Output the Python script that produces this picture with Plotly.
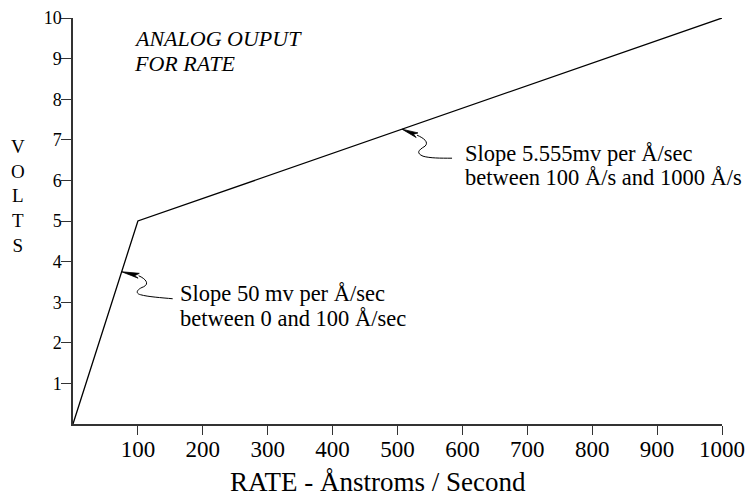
import numpy as np
import plotly.graph_objects as go

# Data
rate = [0, 100, 1000]            # Angstroms / second
volts = [0, 5, 10]               # analog output volts
x_ticks = [100, 200, 300, 400, 500, 600, 700, 800, 900, 1000]
y_ticks = [1, 2, 3, 4, 5, 6, 7, 8, 9, 10]
note_rates = [75, 507]           # where the callout arrows point
note_lines = [["Slope 50 mv per Å/sec", "between 0 and 100 Å/sec"],
              ["Slope 5.555mv per Å/sec", "between 100 Å/s and 1000 Å/s"]]
title_lines = ["ANALOG OUPUT", "FOR RATE"]

FONT = "Liberation Serif, Times New Roman, serif"
W, H = 747, 502
L, R, T, B = 73, 25, 18, 78
PW, PH = W - L - R, H - T - B


def px(x):
    return (x - L) / PW


def py(y):
    return (H - B - y) / PH


fig = go.Figure()
fig.add_trace(go.Scatter(x=rate, y=volts, mode="lines",
                         line=dict(color="black", width=1.3),
                         hoverinfo="skip", showlegend=False))

note_volts = list(np.interp(note_rates, rate, volts))

# squiggle connectors and arrowheads (pixel offsets from arrow tip, y up)
squiggles = [
    "M17,-4 C24,-7 28,-12 22,-15 C14,-18 14,-22 19,-23 C26,-25 40,-26 51,-27",
    "M15,-6 C22,-9 27,-13 23,-17 C16,-21 14,-24 21,-27 C28,-29 38,-29 50,-29",
]
heads = [
    "M0,0 L17.6,-1.6 L13,-3.9 L16.4,-6.4 Z",
    "M0,0 L15.9,-3.7 L11.5,-5 L14.1,-8.3 Z",
]
for xr, yv, path, head in zip(note_rates, note_volts, squiggles, heads):
    fig.add_shape(type="path", xref="x", yref="y", xsizemode="pixel", ysizemode="pixel",
                  xanchor=xr, yanchor=yv, path=path,
                  line=dict(color="black", width=1))
    fig.add_shape(type="path", xref="x", yref="y", xsizemode="pixel", ysizemode="pixel",
                  xanchor=xr, yanchor=yv, path=head, fillcolor="black",
                  line=dict(color="black", width=0.8))

# note text placement (left edge px, first-line centre px)
note_pos = [(178, 293), (463, 153)]
for (tx, ty), lines in zip(note_pos, note_lines):
    for i, line in enumerate(lines):
        fig.add_annotation(x=px(tx), y=py(ty + 25 * i), xref="paper", yref="paper",
                           text=line, showarrow=False,
                           xanchor="left", yanchor="middle", align="left",
                           font=dict(family=FONT, size=22.5, color="black"))

for i, line in enumerate(title_lines):
    fig.add_annotation(x=px(132), y=py(38 + 25 * i), xref="paper", yref="paper",
                       text="<i>" + line + "</i>", showarrow=False,
                       xanchor="left", yanchor="middle", align="left",
                       font=dict(family=FONT, size=22, color="black"))

fig.add_annotation(x=px(18), y=py(196), xref="paper", yref="paper",
                   text="<br>".join("VOLTS"), showarrow=False,
                   xanchor="center", yanchor="middle", align="center",
                   font=dict(family=FONT, size=19, color="black"))

fig.add_annotation(x=px(378), y=py(482), xref="paper", yref="paper",
                   text="RATE - Ånstroms / Second", showarrow=False,
                   xanchor="center", yanchor="middle",
                   font=dict(family=FONT, size=27, color="black"))

fig.update_xaxes(range=[0, 1000], tickvals=x_ticks, ticktext=[str(v) for v in x_ticks],
                 showline=True, linecolor="#333", linewidth=1.5, mirror=False,
                 ticks="outside", ticklen=9, tickcolor="#333", tickwidth=1.2,
                 ticklabelstandoff=-5,
                 showgrid=False, zeroline=False, automargin=False,
                 tickfont=dict(family=FONT, size=23, color="black"))
fig.update_yaxes(range=[0, 10], tickvals=y_ticks, ticktext=[str(v) for v in y_ticks],
                 showline=True, linecolor="#333", linewidth=1.5,
                 ticks="outside", ticklen=10, tickcolor="#333", tickwidth=1.2,
                 ticklabelstandoff=-4,
                 showgrid=False, zeroline=False, automargin=False,
                 tickfont=dict(family=FONT, size=18, color="black"))

fig.update_layout(width=W, height=H,
                  margin=dict(l=L, r=R, t=T, b=B, autoexpand=False),
                  paper_bgcolor="white", plot_bgcolor="white", showlegend=False)

fig.write_html("out.html", config={"displayModeBar": False},
               post_script="document.body.style.margin='0';")
